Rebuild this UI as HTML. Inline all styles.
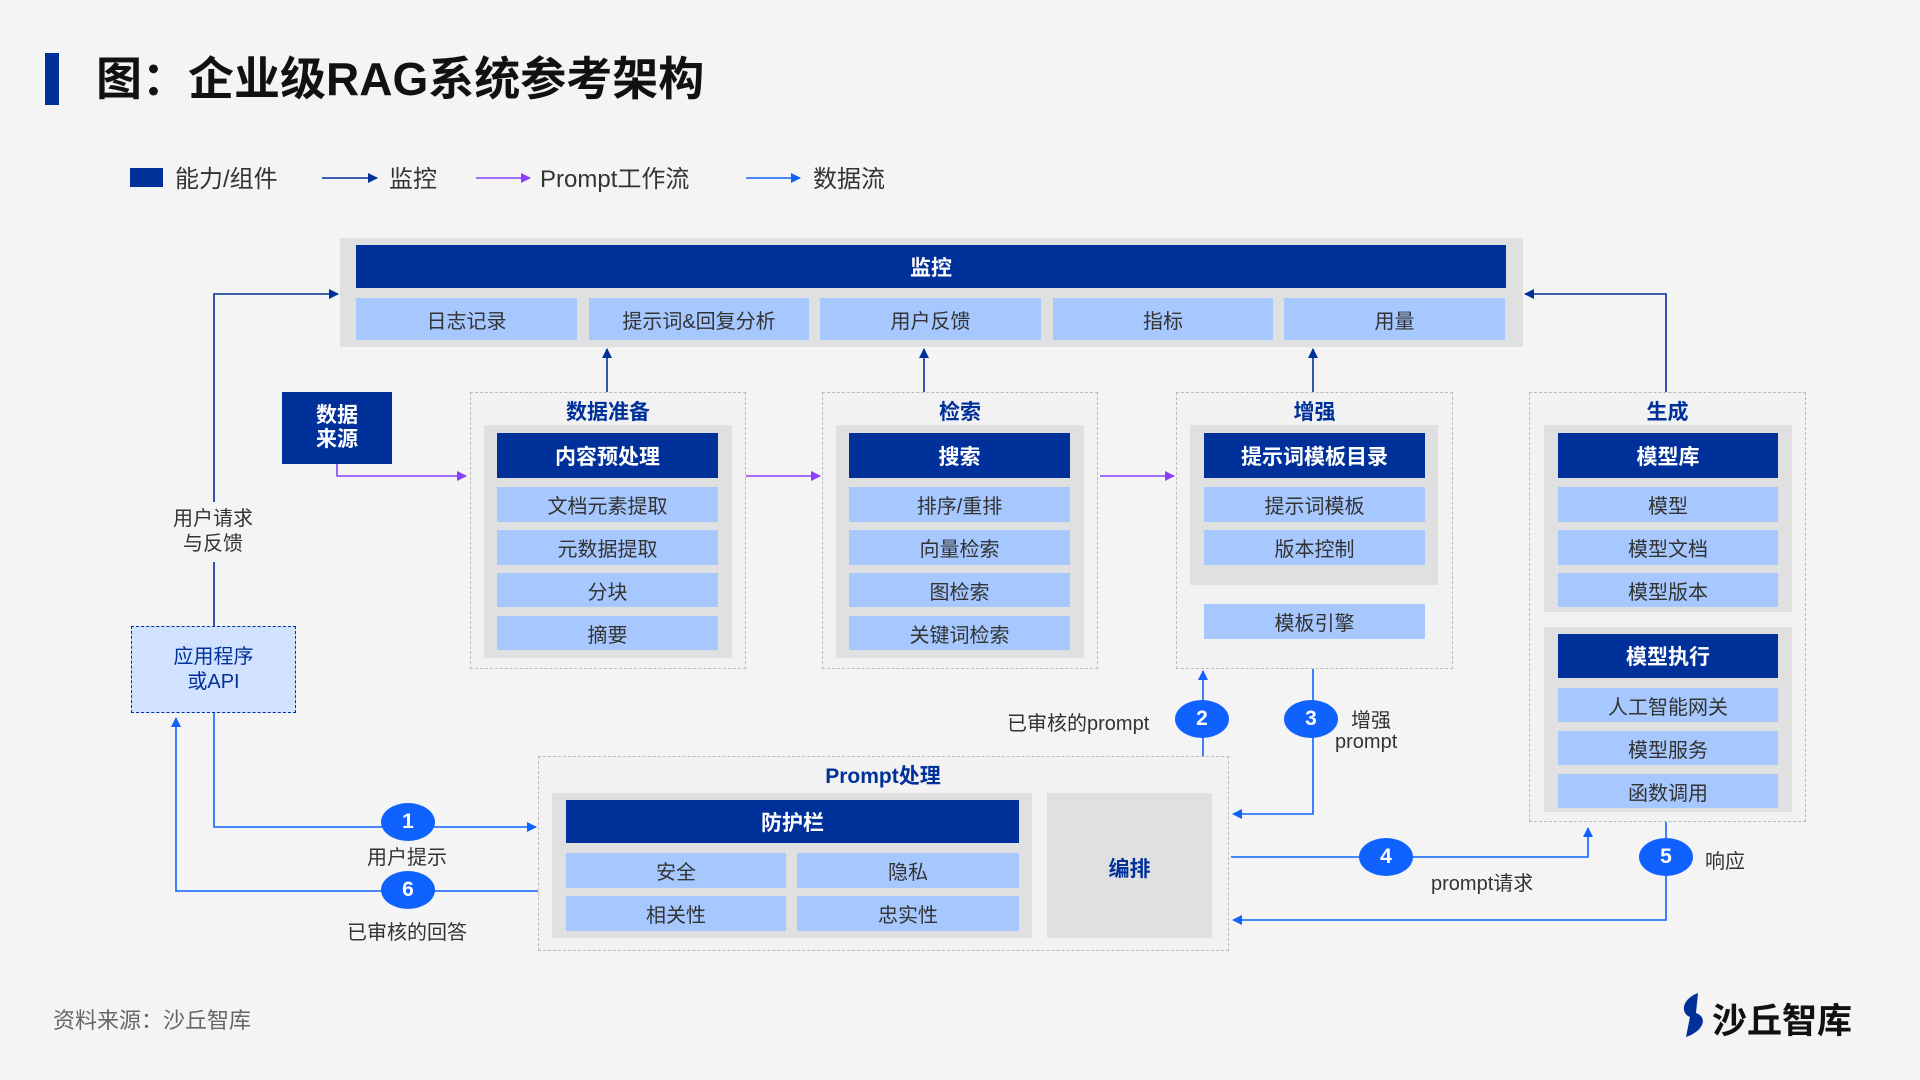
<!DOCTYPE html>
<html><head><meta charset="utf-8"><style>
*{margin:0;padding:0;box-sizing:border-box}
body{width:1920px;height:1080px;background:#f4f4f4;position:relative;overflow:hidden;font-family:"Liberation Sans","Noto Sans CJK SC",sans-serif;color:#333}
.a{position:absolute}
.dk{position:absolute;background:#00309a;color:#fff;font-weight:bold;font-size:21px;display:flex;align-items:center;justify-content:center}
.lt{position:absolute;background:#a6c8ff;color:#333;font-size:20px;display:flex;align-items:center;justify-content:center}
.gr{position:absolute;background:#e0e0e0}
.ds{position:absolute;border:1.5px dashed #bbb;background:#f2f2f2}
.tt{position:absolute;color:#00309a;font-weight:bold;font-size:21px;text-align:center}
.lb{position:absolute;font-size:20px;color:#333;white-space:nowrap}
.c{position:absolute;width:54px;height:38px;border-radius:50%;background:#0f62fe;color:#fff;font-weight:bold;font-size:21px;display:flex;align-items:center;justify-content:center}
</style></head><body>
<div class="a" style="left:45px;top:53px;width:14px;height:52px;background:#00309a"></div>
<div class="a" style="left:96px;top:50px;font-size:46px;font-weight:bold;color:#111;line-height:58px">图：企业级RAG系统参考架构</div>

<div class="a" style="left:130px;top:168px;width:33px;height:19px;background:#00309a"></div>
<div class="lb" style="left:175px;top:159px;font-size:24px">能力/组件</div>
<div class="lb" style="left:389px;top:159px;font-size:24px">监控</div>
<div class="lb" style="left:540px;top:159px;font-size:24px">Prompt工作流</div>
<div class="lb" style="left:813px;top:159px;font-size:24px">数据流</div>

<div class="gr" style="left:340px;top:238px;width:1183px;height:109px"></div>
<div class="dk" style="left:356px;top:245px;width:1150px;height:43px">监控</div>
<div class="lt" style="left:356px;top:298px;width:221px;height:42px">日志记录</div>
<div class="lt" style="left:589px;top:298px;width:220px;height:42px">提示词&amp;回复分析</div>
<div class="lt" style="left:820px;top:298px;width:221px;height:42px">用户反馈</div>
<div class="lt" style="left:1053px;top:298px;width:220px;height:42px">指标</div>
<div class="lt" style="left:1284px;top:298px;width:221px;height:42px">用量</div>

<div class="dk" style="left:282px;top:392px;width:110px;height:72px;line-height:24px;text-align:center">数据<br>来源</div>

<div class="ds" style="left:470px;top:392px;width:276px;height:277px"></div>
<div class="tt" style="left:470px;top:396px;width:276px">数据准备</div>
<div class="gr" style="left:484px;top:425px;width:248px;height:233px"></div>
<div class="dk" style="left:497px;top:433px;width:221px;height:45px">内容预处理</div>
<div class="lt" style="left:497px;top:487px;width:221px;height:35px">文档元素提取</div>
<div class="lt" style="left:497px;top:530px;width:221px;height:35px">元数据提取</div>
<div class="lt" style="left:497px;top:573px;width:221px;height:34px">分块</div>
<div class="lt" style="left:497px;top:616px;width:221px;height:34px">摘要</div>

<div class="ds" style="left:822px;top:392px;width:276px;height:277px"></div>
<div class="tt" style="left:822px;top:396px;width:276px">检索</div>
<div class="gr" style="left:836px;top:425px;width:248px;height:233px"></div>
<div class="dk" style="left:849px;top:433px;width:221px;height:45px">搜索</div>
<div class="lt" style="left:849px;top:487px;width:221px;height:35px">排序/重排</div>
<div class="lt" style="left:849px;top:530px;width:221px;height:35px">向量检索</div>
<div class="lt" style="left:849px;top:573px;width:221px;height:34px">图检索</div>
<div class="lt" style="left:849px;top:616px;width:221px;height:34px">关键词检索</div>

<div class="ds" style="left:1176px;top:392px;width:277px;height:277px"></div>
<div class="tt" style="left:1176px;top:396px;width:277px">增强</div>
<div class="gr" style="left:1190px;top:425px;width:248px;height:160px"></div>
<div class="dk" style="left:1204px;top:433px;width:221px;height:45px">提示词模板目录</div>
<div class="lt" style="left:1204px;top:487px;width:221px;height:35px">提示词模板</div>
<div class="lt" style="left:1204px;top:530px;width:221px;height:35px">版本控制</div>
<div class="lt" style="left:1204px;top:604px;width:221px;height:35px">模板引擎</div>

<div class="ds" style="left:1529px;top:392px;width:277px;height:430px"></div>
<div class="tt" style="left:1529px;top:396px;width:277px">生成</div>
<div class="gr" style="left:1544px;top:425px;width:248px;height:187px"></div>
<div class="dk" style="left:1558px;top:433px;width:220px;height:45px">模型库</div>
<div class="lt" style="left:1558px;top:487px;width:220px;height:35px">模型</div>
<div class="lt" style="left:1558px;top:530px;width:220px;height:35px">模型文档</div>
<div class="lt" style="left:1558px;top:573px;width:220px;height:34px">模型版本</div>
<div class="gr" style="left:1544px;top:627px;width:248px;height:185px"></div>
<div class="dk" style="left:1558px;top:634px;width:220px;height:44px">模型执行</div>
<div class="lt" style="left:1558px;top:688px;width:220px;height:34px">人工智能网关</div>
<div class="lt" style="left:1558px;top:731px;width:220px;height:34px">模型服务</div>
<div class="lt" style="left:1558px;top:774px;width:220px;height:34px">函数调用</div>

<div class="ds" style="left:538px;top:756px;width:691px;height:195px"></div>
<div class="tt" style="left:538px;top:760px;width:690px">Prompt处理</div>
<div class="gr" style="left:552px;top:793px;width:480px;height:145px"></div>
<div class="dk" style="left:566px;top:800px;width:453px;height:43px">防护栏</div>
<div class="lt" style="left:566px;top:853px;width:220px;height:35px">安全</div>
<div class="lt" style="left:797px;top:853px;width:222px;height:35px">隐私</div>
<div class="lt" style="left:566px;top:896px;width:220px;height:35px">相关性</div>
<div class="lt" style="left:797px;top:896px;width:222px;height:35px">忠实性</div>
<div class="gr" style="left:1047px;top:793px;width:165px;height:145px"></div>
<div class="tt" style="left:1047px;top:853px;width:165px">编排</div>

<div class="a" style="left:131px;top:626px;width:165px;height:87px;background:#d0e2ff;border:1.5px dashed #00309a;color:#00309a;font-size:20px;line-height:25px;text-align:center;padding-top:18px">应用程序<br>或API</div>

<svg class="a" style="left:0;top:0" width="1920" height="1080">
<defs>
<marker id="md" markerWidth="10" markerHeight="10" refX="9" refY="5" orient="auto" markerUnits="userSpaceOnUse"><path d="M0,0L10,5L0,10z" fill="#00309a"/></marker>
<marker id="mp" markerWidth="10" markerHeight="10" refX="9" refY="5" orient="auto" markerUnits="userSpaceOnUse"><path d="M0,0L10,5L0,10z" fill="#8a3ffc"/></marker>
<marker id="mb" markerWidth="10" markerHeight="10" refX="9" refY="5" orient="auto" markerUnits="userSpaceOnUse"><path d="M0,0L10,5L0,10z" fill="#0f62fe"/></marker>
</defs>
<g fill="none" stroke-width="1.6">
<line x1="322" y1="178" x2="377" y2="178" stroke="#00309a" marker-end="url(#md)"/>
<line x1="476" y1="178" x2="530" y2="178" stroke="#8a3ffc" marker-end="url(#mp)"/>
<line x1="746" y1="178" x2="800" y2="178" stroke="#0f62fe" marker-end="url(#mb)"/>
<line x1="607" y1="392" x2="607" y2="349" stroke="#00309a" marker-end="url(#md)"/>
<line x1="924" y1="392" x2="924" y2="349" stroke="#00309a" marker-end="url(#md)"/>
<line x1="1313" y1="392" x2="1313" y2="349" stroke="#00309a" marker-end="url(#md)"/>
<polyline points="214,502 214,294 338,294" stroke="#00309a" marker-end="url(#md)"/>
<line x1="214" y1="562" x2="214" y2="626" stroke="#00309a"/>
<polyline points="1666,392 1666,294 1525,294" stroke="#00309a" marker-end="url(#md)"/>
<polyline points="337,464 337,476 466,476" stroke="#8a3ffc" marker-end="url(#mp)"/>
<line x1="746" y1="476" x2="820" y2="476" stroke="#8a3ffc" marker-end="url(#mp)"/>
<line x1="1100" y1="476" x2="1174" y2="476" stroke="#8a3ffc" marker-end="url(#mp)"/>
<polyline points="214,713 214,827 536,827" stroke="#0f62fe" marker-end="url(#mb)"/>
<polyline points="538,891 176,891 176,718" stroke="#0f62fe" marker-end="url(#mb)"/>
<line x1="1203" y1="756" x2="1203" y2="671" stroke="#0f62fe" marker-end="url(#mb)"/>
<polyline points="1313,669 1313,814 1233,814" stroke="#0f62fe" marker-end="url(#mb)"/>
<polyline points="1231,857 1588,857 1588,828" stroke="#0f62fe" marker-end="url(#mb)"/>
<polyline points="1666,822 1666,920 1233,920" stroke="#0f62fe" marker-end="url(#mb)"/>
</g>
</svg>

<div class="lb" style="left:163px;top:507px;width:100px;text-align:center;line-height:25px">用户请求<br>与反馈</div>
<div class="c" style="left:381px;top:803px">1</div>
<div class="lb" style="left:357px;top:841px;width:100px;text-align:center">用户提示</div>
<div class="c" style="left:381px;top:871px">6</div>
<div class="lb" style="left:337px;top:916px;width:140px;text-align:center">已审核的回答</div>
<div class="c" style="left:1175px;top:700px">2</div>
<div class="lb" style="left:1007px;top:707px">已审核的prompt</div>
<div class="c" style="left:1284px;top:700px">3</div>
<div class="lb" style="left:1351px;top:704px">增强</div>
<div class="lb" style="left:1335px;top:731px">prompt</div>
<div class="c" style="left:1359px;top:838px">4</div>
<div class="lb" style="left:1431px;top:867px">prompt请求</div>
<div class="c" style="left:1639px;top:838px">5</div>
<div class="lb" style="left:1705px;top:845px">响应</div>

<div class="lb" style="left:53px;top:1003px;font-size:22px;color:#666">资料来源：沙丘智库</div>
<svg class="a" style="left:1678px;top:991px" width="32" height="48"><path d="M20,2 C4,8 2,22 12,26 L8,46 C26,40 30,26 18,22 Z" fill="#00309a"/></svg>
<div class="a" style="left:1712px;top:993px;font-size:35px;font-weight:bold;color:#111">沙丘智库</div>
</body></html>
